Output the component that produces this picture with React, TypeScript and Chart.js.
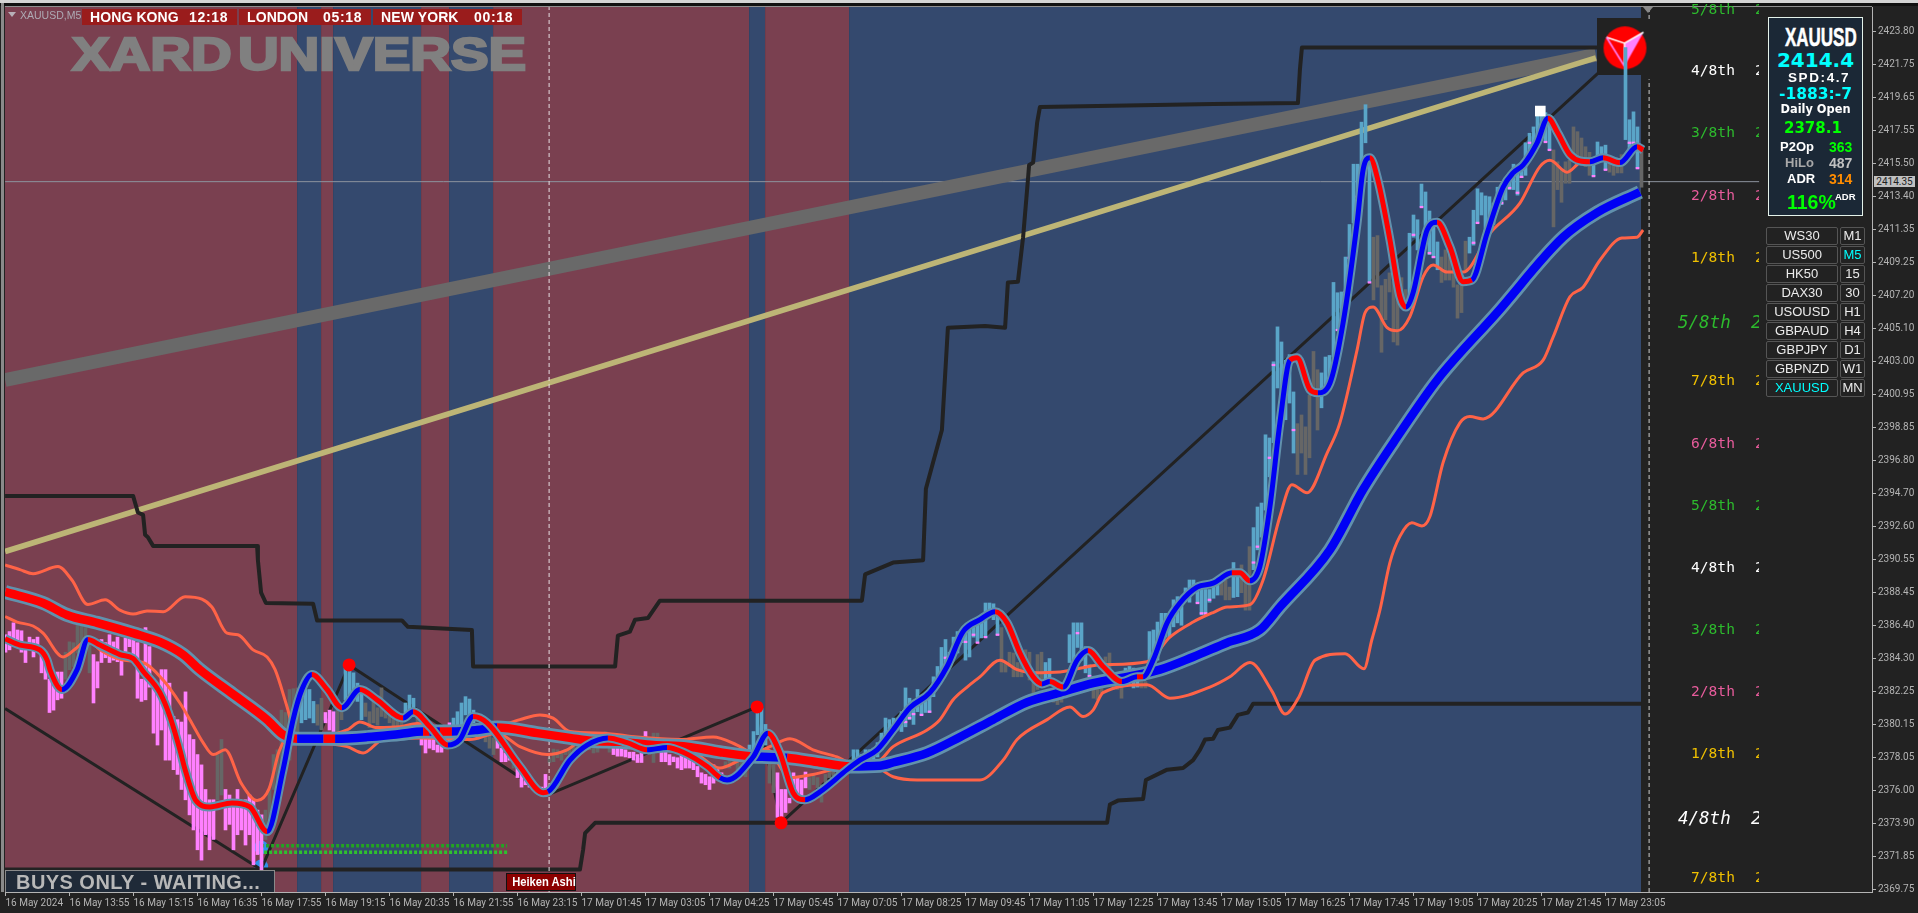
import React, { useEffect, useRef } from "react";
import { Chart, registerables } from "chart.js";

Chart.register(...registerables);

const timeLabels = ["16 May 2024","16 May 13:55","16 May 15:15","16 May 16:35","16 May 17:55","16 May 19:15","16 May 20:35","16 May 21:55","16 May 23:15","17 May 01:45","17 May 03:05","17 May 04:25","17 May 05:45","17 May 07:05","17 May 08:25","17 May 09:45","17 May 11:05","17 May 12:25","17 May 13:45","17 May 15:05","17 May 16:25","17 May 17:45","17 May 19:05","17 May 20:25","17 May 21:45","17 May 23:05"];
const priceTicks = [2423.8,2421.75,2419.65,2417.55,2415.5,2413.4,2411.35,2409.25,2407.2,2405.1,2403,2400.95,2398.85,2396.8,2394.7,2392.6,2390.55,2388.45,2386.4,2384.3,2382.25,2380.15,2378.05,2376,2373.9,2371.85,2369.75];

// candle rows: [bar index, high, low]
const pinkBars = [[0,2385.8,2384.7],[1,2386,2384.85],[2,2386.55,2385.05],[3,2386.1,2385],[4,2386.05,2384.7],[5,2385.3,2384.05],[6,2385.65,2385],[7,2385.5,2384.4],[8,2385.65,2384.7],[9,2384.7,2383.4],[10,2384.1,2383],[11,2383,2380.9],[12,2383,2381.05],[13,2383.45,2381.7],[14,2383.45,2381.8],
[22,2384.55,2381.5],[23,2384.1,2382.45],[24,2385.5,2384.05],[25,2385.3,2384.35],[26,2385.8,2384.05],[27,2385.35,2384.2],[28,2385.65,2384.1],[29,2384.65,2383.25],[30,2385.6,2384.2],[31,2386.25,2385.05],[32,2386.1,2384.2],[33,2385.3,2381.8],[34,2383,2381.6],[35,2386.25,2381.7],[36,2385.05,2382.5],[37,2383,2379.6],[38,2382.45,2378.85],[39,2383.6,2379.8],[40,2383.6,2377.9],[41,2382.75,2377.9],[42,2380.65,2377.3],[43,2380.45,2377],[44,2380.3,2376.05],[45,2382.2,2375.4],[46,2379.5,2374.45],[47,2379.2,2373.5],[48,2378.25,2372.25],[49,2377.6,2371.6],[50,2376.05,2373.2],[51,2375.4,2372.25],[52,2375.4,2372.9],
[55,2376.05,2373.5],[56,2375.7,2373.85],[57,2375.4,2372.25],[58,2376.05,2373.2],[59,2375.1,2373.5],[60,2375.4,2372.55],[61,2375.7,2373.2],[62,2375.4,2371.3],[63,2374.75,2371.95],[64,2374.45,2370.85],
[80,2380.9,2380.25],[81,2381.05,2379.8],[82,2380.95,2379.7],
[104,2379.35,2378.85],[105,2379.35,2378.35],[106,2379.3,2378.65],[107,2379.2,2378.55],[108,2378.85,2378.4],[109,2379,2378.4],[110,2379.5,2378.65],[111,2380.25,2378.85],
[123,2379.2,2378.65],[124,2378.65,2377.8],[125,2378.35,2377.8],[126,2378.25,2377.9],[128,2377.5,2376.8],[129,2377.1,2376.2],[130,2376.8,2376.35],[131,2376.55,2376.2],[132,2376.35,2376.05],[133,2376.15,2375.85],[134,2376.2,2375.7],[135,2377,2375.6],
[152,2378.75,2378.25],[153,2378.65,2378.15],[154,2378.65,2378.15],[155,2378.55,2378.1],[156,2378.4,2378.05],[157,2378.4,2377.9],[158,2378.25,2377.75],[159,2378.65,2377.75],[160,2379.7,2378.75],[164,2378.85,2377.8],[165,2378.65,2377.8],[166,2378.25,2377.6],[167,2378.1,2377.8],[168,2378.05,2377.4],[169,2378.25,2377.3],[170,2378.25,2377.4],[171,2378.25,2377.4],[172,2378.25,2377.3],[173,2377.5,2376.85],[174,2377.1,2376.45],[175,2377,2376.35],[176,2376.85,2376.05],[177,2377.6,2376.45],[178,2377.3,2376.65],[179,2377.1,2376.8],
[193,2377.1,2374.3],[194,2376.05,2373.95],[195,2376.05,2374.6],[196,2375.5,2375.2],[197,2377.1,2376.2],[198,2376.85,2375.6],[199,2376.65,2375.5],[200,2377.15,2376.15]];

const grayBars = [[15,2384.7,2383],[16,2385.35,2383.6],[17,2385.3,2383.8],[18,2386.4,2384.65],[19,2386.4,2385],[20,2386.25,2384.85],[21,2385.65,2383.4],[53,2378.25,2375.4],[54,2379.2,2375.7],[65,2374.75,2372.9],[66,2376.05,2373.5],[67,2378.25,2376.05],[68,2378.55,2376.05],[69,2381.05,2376.05],[70,2380.9,2377.3],[71,2382.35,2377.9],[72,2382.4,2378.85],[73,2382.45,2379.2],[78,2381.4,2380.1],[79,2381.8,2379.8],[83,2381.7,2379.5],[84,2381.4,2380.45],[90,2381.5,2380.65],[91,2380.95,2379.95],[92,2381.7,2380.25],[93,2381.2,2380.1],[94,2382.45,2380.65],[95,2381.5,2380.55],[96,2381.05,2380.25],[97,2380.75,2379.95],[98,2380.7,2379.8],[99,2380.7,2379.8],[103,2380.95,2379.5],[118,2379.8,2379.2],[119,2379.95,2379.3],[120,2379.8,2379.05],[121,2379.5,2378.65],[122,2379.3,2378.25],[127,2378.25,2377.4],[136,2378.05,2377.75],[137,2378.6,2377.8],[138,2378.55,2378.05],[139,2378.4,2377.9],[140,2378.55,2378.25],[141,2378.65,2378.25],[142,2378.85,2378.4],[143,2378.85,2378.55],[144,2379.05,2378.65],[145,2379.2,2378.65],[146,2379.05,2378.55],[147,2379,2378.35],[148,2378.85,2378.4],[149,2379.6,2378.75],[150,2379.7,2378.85],[151,2379,2378.4],[161,2379.2,2378.25],[162,2379.6,2377.75],[163,2379.6,2378.35],[180,2377.8,2377.4],[181,2377.9,2377.4],[182,2378.05,2377.6],[183,2378.05,2377.3],[184,2378.25,2377.3],[185,2378.1,2376.85],[191,2377.75,2376.45],[192,2377.6,2375.85],[201,2376.8,2376.05],[202,2377,2376.35],[203,2376.8,2376.15],[204,2376.35,2375.25],[205,2377,2376.05],[206,2377.4,2376.8],[207,2377.5,2376.9],[208,2377.6,2377],[209,2377.6,2377],[249,2386.25,2383.45],[250,2384.05,2383.45],[251,2384.7,2383.8],[252,2384.65,2383.15],[253,2384.05,2383.15],[254,2384.05,2383.15],[255,2384.85,2383.4],[256,2384.7,2382.95],[257,2382.95,2381.9],[258,2384.55,2382.35],[259,2384.7,2382.75],[262,2382,2381.55],[263,2381.9,2381.4],[264,2382.15,2381.55],[265,2382.95,2382],[272,2382.5,2381.8],[273,2382.35,2381.7],[274,2382.95,2382.15],[275,2384.4,2382.75],[276,2384.65,2383.15],[277,2382.75,2382.35],[278,2382.75,2382.35],[279,2382.5,2381.8],[284,2382.95,2382.45],[285,2382.85,2382.45],[304,2389.15,2388.3],[305,2389.25,2388],[306,2388.8,2388],[309,2390.2,2388.45],[310,2389.25,2387.35],[311,2391.35,2387.35],[323,2399.1,2395.9],[324,2399.65,2397.25],[325,2398.9,2395.9],[326,2400.9,2396.95],[327,2403.65,2401.25],[328,2402.5,2398.7],[342,2410.85,2406.9],[343,2410.95,2407.7],[344,2407.8,2403.6],[345,2408.2,2405.65],[346,2408.6,2407.4],[347,2408.05,2404.25],[348,2408.8,2404.05],[349,2408.3,2406.9],[350,2407.55,2406.45],[359,2409.6,2408],[360,2410.05,2408.15],[361,2409.75,2408.15],[362,2409.6,2407.7],[363,2407.85,2405.75],[364,2407.85,2406.1],[365,2410.6,2408.8],[387,2416.35,2411.5],[388,2415.6,2413.85],[389,2415.1,2413.05],[390,2415.6,2414.25],[391,2415.7,2414.25],[392,2417.8,2415.85],[393,2417.5,2415.7],[394,2417.1,2415.55],[395,2416.55,2415.3],[396,2416.2,2414.75],[401,2415.7,2414.95],[402,2415.55,2414.75],[403,2415.4,2414.9],[404,2416.05,2414.9],[409,2416.35,2414]];

const blueBars = [[74,2381.8,2380.25],[75,2382.35,2380.45],[76,2382.35,2380.55],[77,2381.6,2380.25],[85,2383.7,2381.7],[86,2383.7,2382],[87,2383.4,2382.15],[88,2382.75,2381.6],[89,2382.15,2380.45],[100,2381.5,2380.55],[101,2382,2380.75],[102,2381.8,2380.65],[112,2380.55,2379.5],[113,2380.95,2379.95],[114,2381.5,2380],[115,2381.9,2380.75],[116,2381.75,2380.75],[117,2381.05,2380.25],[186,2378.85,2378.1],[187,2379.7,2378.1],[188,2381.2,2379.5],[189,2381.15,2379.5],[190,2380.15,2378.85],[212,2378.55,2377.9],[213,2378.55,2377.5],[214,2378.25,2377.6],[215,2378.55,2377.6],[216,2378.55,2377.8],[217,2378.65,2377.9],[218,2379,2378.1],[219,2379.6,2378.55],[220,2380.55,2379.2],[221,2380.45,2379.6],[222,2380.55,2379.8],[223,2380.55,2379.8],[224,2380.95,2379.7],[225,2382.45,2380],[226,2381.8,2380.45],[227,2381.4,2380.15],[228,2382.35,2380.95],[229,2381.7,2380.75],[230,2381.9,2380.9],[231,2381.9,2380.9],[232,2383.15,2381.9],[233,2383.8,2382.5],[234,2385,2383.15],[235,2385.5,2383.6],[236,2384.7,2383.8],[237,2385.65,2384.4],[238,2386,2384.65],[239,2386,2385.3],[240,2386.25,2384.2],[241,2386.25,2384.4],[242,2386.4,2385.65],[243,2386.75,2385.3],[244,2386.85,2385.6],[245,2387.8,2385.65],[246,2387.8,2386.95],[247,2387.75,2386.75],[248,2387.15,2385.8],[260,2384.05,2382.85],[261,2384.3,2382.95],[266,2385.8,2384.05],[267,2386.55,2384.05],[268,2386.55,2385],[269,2386.55,2384.2],[270,2385.05,2383.4],[271,2383.9,2383.15],[280,2383.7,2382.75],[281,2383.8,2382.95],[282,2383.7,2382.45],[283,2383.6,2382.5],[286,2386,2384.05],[287,2386.1,2384.4],[288,2386.6,2384.2],[289,2387.15,2386.1],[290,2387.15,2385.65],[291,2387.15,2385.65],[292,2388,2386.3],[293,2388.2,2386.55],[294,2388,2386.4],[295,2388.75,2388],[296,2389.25,2387.85],[297,2389.25,2388.65],[298,2388.65,2387.8],[299,2388.65,2387.05],[300,2388.65,2387.05],[301,2388.65,2387.85],[302,2388.95,2388.1],[303,2389.15,2388.3],[307,2390.35,2388.15],[308,2389.9,2388.2],[312,2392.55,2389.9],[313,2393.85,2391.15],[314,2394.1,2391.95],[315,2398.4,2393.65],[316,2398.2,2395.75],[317,2403,2397.9],[318,2405.2,2401.35],[319,2404.25,2399.8],[320,2403.1,2399.35],[321,2403.45,2400.4],[322,2401.1,2397.25],[329,2402.3,2400.1],[330,2403.3,2401.25],[331,2403.4,2401.4],[332,2408,2403.3],[333,2407.35,2405],[334,2407.4,2404.2],[335,2409.6,2407.4],[336,2411.65,2409.4],[337,2415.45,2411.75],[338,2415.45,2413.4],[339,2418.1,2415.3],[340,2419.2,2416.8],[341,2415.85,2408],[351,2411.1,2406.9],[352,2412.25,2410.85],[353,2411.95,2410.05],[354,2414.2,2412.75],[355,2413.7,2411.1],[356,2412.5,2409.75],[357,2411.95,2409.55],[358,2410.55,2408.8],[366,2410.85,2409.85],[367,2412.55,2410.35],[368,2413.9,2411.75],[369,2413.65,2412.25],[370,2413.45,2411.1],[371,2413.4,2411.75],[372,2413,2411.65],[373,2414,2412.9],[374,2413.85,2412.9],[375,2414.25,2413.2],[376,2414.9,2413.85],[377,2415.45,2413.85],[378,2415.1,2413.5],[379,2415.1,2414.6],[380,2416.8,2414.75],[381,2417.4,2415.7],[382,2417.8,2416.15],[383,2418.55,2417],[384,2419,2417.4],[385,2418.7,2416.85],[386,2418.1,2416.35],[397,2415.6,2414.7],[398,2416.85,2415.7],[399,2416.55,2415.6],[400,2416.65,2415.1],[405,2422.8,2417],[406,2418.25,2416.35],[407,2418.75,2416.5],[408,2417.8,2415.2]];

// close marks inside rising candles: [bar index, price]
const closeMarks = [[225,2380.3],[226,2380.55],[227,2380.8],[229,2380.75],[231,2380.95],[235,2384.35],[240,2385.35],[242,2385.8],[243,2385.3],[245,2385.65],[248,2385.8],[268,2385.9],[270,2383.8],[271,2383.2],[298,2387.8],[299,2387.15],[300,2387.15],[301,2388],[312,2390.35],[313,2391.35],[316,2396.95],[317,2402.8],[320,2401.1],[322,2398.7],[333,2405],[335,2407.4],[336,2409.55],[338,2413.4],[341,2408],[352,2411],[354,2412.75],[356,2409.85],[357,2409.6],[367,2410.5],[368,2411.75],[370,2411.2],[374,2413],[376,2413.95],[378,2413.65],[379,2414.65],[381,2416.8],[385,2416.85],[386,2416.35],[397,2414.7],[400,2415.1],[406,2416.8],[407,2416.8],[408,2415.2]];

const maroonSpans = [[-0.125,72.9],[78.9,81.9],[103.9,110.9],[121.9,185.9],[189.9,210.9]];
const blueSpans = [[72.9,78.9],[81.9,103.9],[110.9,121.9],[185.9,189.9],[210.9,408.9]];

const grayTrend = [[-0.1,2401.85],[397.6,2422.35]];
const tanTrend = [[-0.1,2391.05],[397.6,2422.15]];
const lastPrice = [[-0.1,2414.35],[438.4,2414.35]];
const sessionLine = [[135.9,2369.59],[135.9,2425.35]];
const futureLine = [[410.9,2369.59],[410.9,2420.8]];
const futureLineTop = [[410.9,2424.6],[410.9,2425.35]];
const greenRowA = [[63.9,2372.5],[125.4,2372.5]];
const greenRowB = [[63.9,2372.1],[125.4,2372.1]];

const stepHigh = [[-0.1,2394.55],[31.9,2394.55],[33.1,2393.5],[34.4,2393.35],[34.9,2392.1],[35.6,2391.95],[36.9,2391.4],[62.9,2391.4],[63.1,2390.5],[63.9,2388.45],[65.1,2387.8],[76.9,2387.75],[77.9,2386.7],[99.1,2386.7],[100.6,2386.3],[116.6,2386.1],[116.9,2383.8],[152.4,2383.8],[153.1,2385.75],[156.1,2386],[157.4,2386.75],[160.6,2386.85],[163.6,2387.95],[214.1,2387.95],[214.9,2389.6],[221.9,2390.35],[229.4,2390.5],[230.1,2395],[234.1,2398.7],[235.6,2405.15],[244.9,2405.25],[249.9,2405.15],[250.6,2408],[253.1,2408.05],[254.4,2410.85],[255.6,2414.45],[255.9,2415.4],[256.9,2415.55],[257.9,2418.05],[258.6,2419.05],[301.9,2419.25],[323.1,2419.3],[323.6,2421.4],[324.1,2422.8],[408.9,2422.8]];
const stepLow = [[-0.1,2371],[143.6,2371],[144.4,2372.25],[144.9,2373.3],[147.4,2373.95],[275.4,2373.95],[276.1,2375.1],[278.1,2375.35],[284.4,2375.45],[285.1,2376.65],[290.4,2377.3],[294.4,2377.4],[296.9,2377.9],[298.6,2378.55],[299.9,2379.2],[301.9,2379.25],[303.1,2379.8],[306.1,2379.95],[308.1,2380.75],[310.6,2380.9],[311.9,2381.45],[408.9,2381.45]];
const zigzag = [[-0.1,2381.15],[63.9,2371],[85.9,2383.9],[135.4,2375.7],[187.9,2381.25],[193.9,2373.95],[405.1,2422.8]];

const slowLine = [[-0.1,2388.5],[9.4,2387.8],[15.4,2387.05],[22.9,2386.55],[31.9,2385.9],[38.6,2385.35],[44.4,2384.55],[48.6,2383.6],[56.9,2382.05],[65.4,2380.45],[69.4,2379.5],[72.9,2379.25],[79.5,2379.25],[82.4,2379.25],[90.4,2379.35],[98.6,2379.55],[104.4,2379.7],[106,2379.7],[108.6,2379.7],[111.6,2379.7],[117.9,2379.8],[122.9,2379.95],[132.9,2379.6],[141.1,2379.3],[146.9,2379.1],[153.6,2379.05],[161.9,2378.85],[170.4,2378.75],[178.6,2378.4],[186.1,2378.15],[190.6,2378.1],[195.4,2378.05],[203.6,2377.75],[211.1,2377.5],[218.6,2377.55],[221.9,2377.75],[230.4,2378.35],[238.6,2379.35],[246.9,2380.45],[255.4,2381.55],[263.6,2382.15],[271.9,2382.75],[280.4,2383.15],[288.6,2383.6],[296.9,2384.4],[305.4,2385.3],[313.6,2386.1],[318.6,2387.55],[331.1,2391.15],[339.4,2394.95],[347.9,2398.25],[357.9,2401.85],[372.9,2406.1],[389.4,2410.85],[397.9,2412.4],[408.6,2413.7]];
const slowFalling = [[-1,72.9],[79.5,82.4],[104.4,106],[108.6,111.6],[122.9,186.1],[195.4,211.1]];

const fastLine = [[-0.1,2385.55],[3.6,2385.15],[8.6,2384.85],[10.4,2384.2],[11.1,2383.6],[14.1,2382.35],[17.9,2383.6],[20.6,2385.5],[23.6,2385.15],[28.6,2384.55],[31.9,2384.3],[34.4,2383.5],[38.6,2382.15],[41.1,2380.65],[43.6,2378.55],[44.9,2377.3],[47.6,2375.35],[51.1,2374.95],[56.6,2375.2],[61.1,2374.95],[65.4,2373.4],[69.4,2377.3],[71.9,2380.45],[74.1,2382.35],[76.6,2383.3],[80.4,2382.35],[84.1,2381.2],[88.6,2382.35],[92.9,2381.7],[99.4,2380.55],[101.9,2380.95],[106.1,2380],[110.6,2378.85],[113.6,2379.2],[116.9,2380.65],[120.4,2380.25],[128.6,2377.5],[134.4,2375.85],[135.6,2375.9],[141.1,2377.9],[145.4,2378.85],[150.6,2379.3],[155.4,2379],[160.4,2378.55],[165.4,2378.7],[169.4,2378.4],[175.4,2377.5],[178.6,2376.8],[180.4,2376.65],[186.9,2378.1],[190.6,2379.6],[193.6,2378.35],[196.9,2375.85],[199.9,2375.4],[203.6,2375.9],[210.4,2377.3],[213.6,2377.9],[217.9,2378.55],[221.9,2379.8],[226.1,2381.2],[231.1,2382.15],[235.4,2383.8],[239.4,2386],[243.6,2386.75],[247.4,2387.25],[250.4,2386.55],[253.6,2384.65],[256.9,2383.15],[259.1,2382.7],[261.1,2382.85],[264.4,2382.5],[267.9,2384.2],[270.6,2384.8],[274.4,2383.8],[279.1,2382.85],[282.9,2383.15],[284.4,2383.15],[286.9,2384.2],[290.4,2386.55],[293.6,2387.8],[297.9,2388.8],[301.9,2389.05],[306.6,2389.7],[308.6,2389.7],[311.1,2389.2],[313.6,2390.1],[316.1,2393.85],[318.6,2399.15],[321.1,2403.1],[322.9,2403.25],[326.1,2401.25],[328.1,2401.05],[331.1,2401.65],[334.4,2405.45],[337.9,2411.75],[339.4,2415.1],[341.1,2415.85],[343.1,2414.45],[346.1,2410.7],[348.6,2407.1],[350.1,2406.45],[351.9,2407.35],[355.4,2411.3],[357.9,2411.8],[361.1,2410.25],[364.4,2408.05],[366.6,2408.15],[370.4,2411.1],[374.4,2414],[376.9,2414.9],[379.4,2415.4],[382.9,2416.8],[385.6,2418.35],[388.1,2417.4],[391.1,2416.05],[396.1,2415.6],[399.4,2415.85],[403.6,2415.55],[407.9,2416.55],[409.4,2416.35]];
const fastFalling = [[-1,14.1],[20.6,65.4],[76.6,84.1],[88.6,99.4],[101.9,110.6],[116.9,135.6],[150.6,160.4],[165.4,178.6],[190.6,199.9],[247.4,259.1],[261.1,264.4],[270.6,279.1],[282.9,284.4],[306.6,311.1],[321.1,328.1],[341.1,350.1],[357.9,366.6],[385.6,396.1],[399.4,403.6],[407.9,410]];

const envelopeUpper = [[-0.1,2390.2],[3.6,2389.9],[6.9,2389.65],[13.1,2390.1],[16.6,2389.25],[20.6,2387.7],[24.9,2388],[28.6,2387.35],[31.9,2387.1],[35.4,2387.3],[39.4,2387.25],[44.9,2388.2],[49.1,2388.05],[51.6,2387.55],[55.4,2385.9],[58.1,2385.8],[61.9,2384.85],[65.4,2384.4],[67.4,2383.6],[70.4,2381.25],[72.9,2379.2],[78.6,2379.35],[85.4,2379.8],[88.6,2380.3],[92.9,2379.95],[98.6,2380],[102.9,2380.2],[110.4,2379.8],[116.1,2379.7],[122.9,2380],[128.6,2380.45],[133.6,2380.75],[136.9,2380.55],[141.1,2379.7],[149.4,2379.6],[157.9,2379.35],[168.6,2379.2],[176.9,2379.35],[182.9,2378.85],[186.9,2378.35],[191.1,2378.75],[196.1,2379.25],[201.9,2378.55],[207.9,2378.1],[211.1,2377.75],[217.9,2377.8],[221.9,2378.75],[230.4,2379.8],[233.6,2380.45],[236.9,2381.7],[240.4,2382.5],[243.6,2383.15],[248.6,2384.2],[252.9,2383.6],[256.9,2383.4],[263.6,2383.45],[273.6,2383.9],[285.4,2384.1],[291.1,2385.65],[296.9,2386.6],[301.9,2387.2],[305.4,2387.55],[311.1,2387.7],[314.4,2389.25],[318.6,2393.25],[321.6,2395.25],[325.4,2394.75],[330.4,2397.25],[333.6,2399.15],[337.9,2403.75],[339.9,2406.1],[341.9,2406.45],[345.4,2405.15],[347.9,2404.95],[351.1,2405.85],[354.4,2408.35],[356.9,2409.1],[360.4,2408.65],[364.4,2408.65],[371.1,2411.1],[378.6,2413],[383.6,2415.3],[386.1,2415.7],[390.4,2414.95],[393.6,2415.55],[397.9,2415.7],[403.6,2415.6]];
const envelopeLower = [[-0.1,2386.95],[2.9,2386.6],[6.9,2386.35],[9.4,2385.9],[14.4,2384.4],[17.9,2385],[20.6,2385.5],[23.6,2384.85],[29.4,2384.2],[34.4,2384.05],[39.4,2382.95],[43.6,2381.5],[46.1,2380.45],[49.4,2379],[51.9,2378.25],[54.9,2378.55],[58.9,2376.45],[62.9,2375.35],[65.9,2376.1],[68.4,2378.45],[71.4,2379.55],[72.9,2378.95],[78.6,2378.95],[85.4,2378.75],[89.4,2378.35],[94.4,2379.2],[103.6,2379.3],[116.1,2379.2],[122.9,2379.6],[128.6,2378.75],[135.4,2378.25],[140.4,2378.55],[145.4,2379.35],[150.4,2379.35],[161.9,2379],[172.9,2378.25],[178.6,2377.4],[183.6,2377.9],[190.4,2378.55],[196.1,2376.8],[201.9,2377],[211.1,2377.5],[217.9,2377.4],[221.9,2376.85],[227.9,2376.65],[243.6,2376.65],[249.4,2377.9],[252.9,2379.2],[260.4,2380.45],[266.1,2381.25],[269.4,2380.65],[271.9,2381.05],[274.4,2382.15],[285.4,2382.65],[291.1,2381.8],[301.1,2382.5],[306.1,2383.15],[311.1,2384.05],[316.6,2382.25],[319.9,2380.8],[323.4,2381.9],[327.4,2384.2],[334.9,2384.6],[339.6,2383.65],[341.6,2385.5],[343.6,2387.35],[346.1,2390.35],[348.6,2392],[351.6,2392.85],[354.1,2392.65],[356.1,2393.25],[359.4,2396.65],[363.6,2399.15],[366.1,2399.55],[369.4,2399.4],[379.4,2402.3],[384.4,2403.1],[386.9,2404.55],[391.1,2407.1],[394.4,2407.7],[398.6,2409.4],[404.1,2410.8],[407.9,2410.85],[409.4,2411.3]];

const redMarkers = [[85.9,2383.9],[187.9,2381.25],[193.9,2373.95]];
const blueMarkers = [[63.9,2371.2],[63.9,2372.4]];
const whiteMarker = [[383.7,2418.8]];
const logoAnchor = [[404.25,2422.85]];

const clockCities = ["HONG KONG", "LONDON", "NEW YORK"];
const clockTimes = ["12:18", "05:18", "00:18"];
const murreyLabels = ["5/8th","4/8th","3/8th","2/8th","1/8th","5/8th","7/8th","6/8th","5/8th","4/8th","3/8th","2/8th","1/8th","4/8th","7/8th"];
const murreyHues = ["#2dbb2d","#ffffff","#2dbb2d","#e85c9c","#f0c000","#2dbb2d","#f0c000","#e85c9c","#2dbb2d","#ffffff","#2dbb2d","#e85c9c","#f0c000","#ffffff","#f0c000"];
const murreyCentres = [11,72,134,197,259,323,382,445,507,569,631,693,755,819,879];
const murreyScript = [false,false,false,false,false,true,false,false,false,false,false,false,false,true,false];
const symbolButtons = ["WS30","US500","HK50","DAX30","USOUSD","GBPAUD","GBPJPY","GBPNZD","XAUUSD"];
const periodButtons = ["M1","M5","15","30","H1","H4","D1","W1","MN"];

const pts = (rows: number[][]) => rows.map(([x, y]) => ({ x, y }));
const spans = (rows: number[][], top: number) =>
  rows.flatMap(([a, b]) => [{ x: a, y: top }, { x: b, y: top }, { x: b, y: null as any }]);
const bars = (rows: number[][]) => rows.map(([x, hi, lo]) => ({ x, y: [lo, hi] }));
const inRanges = (ranges: number[][], v: number) => ranges.some(([a, b]) => v >= a && v < b);

function makeLogo() {
  const c = document.createElement("canvas");
  c.width = 52;
  c.height = 57;
  const g = c.getContext("2d")!;
  const ox = 1597, oy = 19;
  g.fillStyle = "#222222";
  g.fillRect(0, 0, 52, 57);
  g.fillStyle = "#ff0000";
  g.beginPath();
  g.arc(1625.5 - ox, 48.5 - oy, 21.5, 0, Math.PI * 2);
  g.fill();
  g.fillStyle = "#ff80ff";
  g.beginPath();
  g.moveTo(1644 - ox, 33 - oy);
  g.lineTo(1625 - ox, 44 - oy);
  g.lineTo(1625 - ox, 67 - oy);
  g.closePath();
  g.fill();
  g.strokeStyle = "#ffffff";
  g.lineWidth = 1.5;
  g.beginPath();
  g.moveTo(1644 - ox, 33 - oy);
  g.lineTo(1625 - ox, 44 - oy);
  g.lineTo(1607 - ox, 38 - oy);
  g.moveTo(1625 - ox, 44 - oy);
  g.lineTo(1625 - ox, 67 - oy);
  g.stroke();
  g.strokeStyle = "#ff80ff";
  g.beginPath();
  g.moveTo(1607 - ox, 38 - oy);
  g.lineTo(1625 - ox, 67 - oy);
  g.stroke();
  return c;
}

const line = (rows: number[][], color: string, width: number, extra: any = {}) => ({
  type: "line", data: pts(rows), borderColor: color, borderWidth: width, pointRadius: 0, tension: 0, fill: false, ...extra,
});
const floating = (rows: number[][], color: string) => ({
  type: "bar", data: bars(rows), backgroundColor: color, barThickness: 3, grouped: false, borderWidth: 0,
});
const dots = (rows: number[][], color: string, radius: number, style = "circle") => ({
  type: "line", data: pts(rows), showLine: false, pointRadius: radius, pointStyle: style,
  pointBackgroundColor: color, pointBorderWidth: 0, borderWidth: 0,
});
const smooth = { cubicInterpolationMode: "monotone" };
const OUTLINE = "#6191ad";
const RED = "#ff0000";
const BLUE = "#0000f5";
const zeroPadding = (s: any) => { s.paddingLeft = 0; s.paddingRight = 0; s.paddingTop = 0; s.paddingBottom = 0; };

export default function App() {
  const ref = useRef<HTMLCanvasElement>(null);
  useEffect(() => {
    const TOP = 2425.356;
    const BOTTOM = 2369.59;
    const painterOrder: any[] = [
      { type: "line", data: spans(maroonSpans, TOP), showLine: true, borderWidth: 0, pointRadius: 0, fill: "start", backgroundColor: "#7a4050", spanGaps: false },
      { type: "line", data: spans(blueSpans, TOP), showLine: true, borderWidth: 0, pointRadius: 0, fill: "start", backgroundColor: "#34496e", spanGaps: false },
      line(lastPrice, "#8c939e", 1),
      line(grayTrend, "#696969", 13.7, { borderCapStyle: "butt" }),
      line(tanTrend, "#bdb576", 5.7, { borderCapStyle: "butt" }),
      dots(blueMarkers, "#2f93e8", 7),
      line(stepHigh, "#222222", 4, { borderJoinStyle: "round" }),
      line(stepLow, "#222222", 4, { borderJoinStyle: "round" }),
      line(zigzag, "#222222", 3),
      { type: "line", data: pts(logoAnchor), showLine: false, pointStyle: makeLogo(), pointRadius: 26, borderWidth: 0 },
      line(greenRowA, "#23a323", 3.5, { borderDash: [3, 2] }),
      line(greenRowB, "#2fc02f", 3.5, { borderDash: [3, 2], borderDashOffset: 2 }),
      floating(grayBars, "#666666"),
      floating(pinkBars, "#ff80ff"),
      floating(blueBars, "#5aa5c8"),
      { type: "bar", data: closeMarks.map(([x, y]) => ({ x, y: [y - 0.05, y + 0.05] })), backgroundColor: "#ff80ff", barThickness: 3, grouped: false, borderWidth: 0 },
      line(sessionLine, "#e8dfe4", 1, { borderDash: [4, 3] }),
      line(futureLine, "#d0d0d0", 1, { borderDash: [4, 3] }),
      line(futureLineTop, "#d0d0d0", 1, { borderDash: [4, 3] }),
      line(envelopeUpper, "#ff6347", 3, smooth),
      line(envelopeLower, "#ff6347", 3, smooth),
      line(slowLine, OUTLINE, 14, smooth),
      line(slowLine, BLUE, 8.5, { ...smooth, segment: { borderColor: (c: any) => (inRanges(slowFalling, c.p0.parsed.x) ? RED : BLUE) } }),
      line(fastLine, OUTLINE, 9, smooth),
      line(fastLine, BLUE, 5, { ...smooth, segment: { borderColor: (c: any) => (inRanges(fastFalling, c.p0.parsed.x) ? RED : BLUE) } }),
      dots(redMarkers, "#ff0000", 6.5),
      dots(whiteMarker, "#ffffff", 7.5, "rect"),
    ];
    const n = painterOrder.length;
    const datasets = painterOrder.map((d, i) => ({ ...d, order: n - i }));

    const chart = new Chart(ref.current!, {
      type: "bar",
      data: { datasets },
      options: {
        animation: false,
        responsive: false,
        devicePixelRatio: 1,
        layout: { autoPadding: false, padding: { left: 5, top: 7, right: 0, bottom: 0 } },
        plugins: { legend: { display: false }, tooltip: { enabled: false } },
        events: [],
        scales: {
          x: {
            type: "linear",
            offset: false,
            min: -0.125,
            max: 466.625,
            grid: { offset: false, drawOnChartArea: false, drawTicks: true, tickLength: 4, color: "#b4b4b4" },
            border: { color: "#b4b4b4", width: 1 },
            afterBuildTicks: (s: any) => { s.ticks = timeLabels.map((_, k) => ({ value: k * 16 })); },
            afterFit: (s: any) => { s.height = 21; zeroPadding(s); },
            ticks: {
              autoSkip: false, maxRotation: 0, minRotation: 0, align: "start", padding: 1, color: "#b4b4b4",
              font: { family: "Roboto", size: 10 },
              callback: (v: any) => timeLabels[Math.round(v / 16)],
            },
          },
          y: {
            position: "right",
            min: BOTTOM,
            max: TOP,
            grid: { drawOnChartArea: false, drawTicks: true, tickLength: 4, color: "#b4b4b4" },
            border: { color: "#b4b4b4", width: 1 },
            afterBuildTicks: (s: any) => { s.ticks = priceTicks.map((value) => ({ value })); },
            afterFit: (s: any) => { s.width = 46; zeroPadding(s); },
            ticks: {
              autoSkip: false, padding: 2, color: "#b4b4b4",
              font: { family: "Roboto", size: 10 },
              callback: (v: any) => Number(v).toFixed(2),
            },
          },
        },
      } as any,
    });
    return () => chart.destroy();
  }, []);

  const abs = (left: number, top: number, extra: any = {}): any => ({ position: "absolute", left, top, whiteSpace: "pre", ...extra });
  const SANS = "'Liberation Sans', Arial, sans-serif";
  const WIDE = "'DejaVu Sans', sans-serif";
  const clockBoxes = [[82, 155, 91, 39], [239, 132, 95, 39], [373, 149, 95, 39]];

  return (
    <div style={{ position: "fixed", left: 0, top: 0, width: 1918, height: 913, background: "#222222", overflow: "hidden" }}>
      <canvas ref={ref} width={1918} height={913} style={{ display: "block", width: 1918, height: 913 }} />
      <div style={{ position: "absolute", left: 0, top: 0, width: 1918, height: 3, background: "#d4d4d4" }} />
      <div style={{ position: "absolute", left: 0, top: 3, width: 1918, height: 3, background: "#111" }} />
      <div style={{ position: "absolute", left: 1, top: 3, width: 3, height: 889, background: "#8a8a8a" }} />
      <div style={{ position: "absolute", left: 5, top: 6, width: 1867, height: 1, background: "#8f8f8f" }} />

      <div style={abs(8, 12, { width: 0, height: 0, borderLeft: "4px solid transparent", borderRight: "4px solid transparent", borderTop: "5px solid #b8b0b8" })} />
      <div style={abs(20, 9, { color: "#aeaab4", font: `10.5px ${SANS}`, lineHeight: "12px" })}>XAUUSD,M5</div>
      {clockCities.map((city, i) => {
        const [l, w, cw, tw] = clockBoxes[i];
        return (
          <div key={i} style={abs(l, 9, { width: w, height: 16, background: "#9a1c1c", color: "#fff", font: `bold 14px ${SANS}`, lineHeight: "16px" })}>
            <span style={{ position: "absolute", left: 8, transform: "none", letterSpacing: 0.1 }}>{city}</span>
            <span style={{ position: "absolute", left: w - tw - 9, letterSpacing: 0.7 }}>{clockTimes[i]}</span>
          </div>
        );
      })}
      <div style={abs(72, 28, { color: "#808080", font: `900 47px ${SANS}`, lineHeight: "52px", WebkitTextStroke: "2.4px #808080", transformOrigin: "0 0", transform: "scaleX(1.2)", wordSpacing: -8 })}>XARD UNIVERSE</div>

      <div style={abs(5, 870, { width: 268, height: 21, boxSizing: "content-box", background: "#1f2a38", borderTop: "1px solid #8a8a8a", borderRight: "1px solid #8a8a8a", borderLeft: "1px solid #8a8a8a", color: "#b8b8b8", font: `bold 20px ${SANS}`, lineHeight: "22px", letterSpacing: 0.45 })}>
        <span style={{ marginLeft: 10 }}>BUYS ONLY - WAITING...</span>
      </div>
      <div style={abs(506, 873, { width: 70, height: 18, background: "#8b0000", border: "1px solid #111", boxSizing: "border-box", color: "#fff", textAlign: "center", font: `bold 13px ${SANS}`, lineHeight: "16px" })}>
        <span style={{ display: "inline-block", transform: "scaleX(0.86)" }}>Heiken Ashi</span>
      </div>

      <div style={abs(1643, 7, { width: 0, height: 0, borderLeft: "5px solid transparent", borderRight: "5px solid transparent", borderTop: "6px solid #8a8a8a" })} />

      {murreyLabels.map((t, i) => {
        const script = murreyScript[i];
        return (
          <div key={i} style={abs(script ? 1678 : 1691, murreyCentres[i] - 11, {
            width: script ? 81 : 68, height: 22, overflow: "hidden", color: murreyHues[i], lineHeight: "22px",
            font: script ? `italic 17.5px 'DejaVu Sans Mono', monospace` : `14.6px 'DejaVu Sans Mono', monospace`,
          })}>
            {t}
            <span style={{ position: "absolute", left: script ? 73 : 64 }}>2</span>
          </div>
        );
      })}

      <div style={abs(1768, 17, { width: 95, height: 199, boxSizing: "border-box", background: "#1b2836", border: "1px solid #e4f2ea" })} />
      <div style={abs(1768, 24, { width: 95, textAlign: "center", color: "#fff", font: `bold 25px ${SANS}`, lineHeight: "26px" })}>
        <span style={{ display: "inline-block", transform: "scaleX(0.68)", WebkitTextStroke: "0.5px #fff" }}>XAUUSD</span>
      </div>
      <div style={abs(1768, 48, { width: 95, textAlign: "center", color: "#00ffff", font: `bold 20px ${WIDE}`, lineHeight: "24px" })}>2414.4</div>
      <div style={abs(1788, 70, { color: "#fff", font: `bold 13.5px ${SANS}`, lineHeight: "16px", letterSpacing: 1.6 })}>SPD:4.7</div>
      <div style={abs(1768, 85, { width: 95, textAlign: "center", color: "#00ffff", font: `bold 15.5px ${WIDE}`, lineHeight: "18px" })}>-1883:-7</div>
      <div style={abs(1768, 102, { width: 95, textAlign: "center", color: "#fff", font: `bold 11.4px ${WIDE}`, lineHeight: "14px" })}>Daily Open</div>
      <div style={abs(1784, 119, { color: "#00ff00", font: `bold 15px ${WIDE}`, lineHeight: "18px" })}>2378.1</div>
      <div style={abs(1780, 139, { color: "#fff", font: `bold 13px ${SANS}`, lineHeight: "16px" })}>P2Op</div>
      <div style={abs(1829, 139, { color: "#00ff00", font: `bold 14px ${SANS}`, lineHeight: "16px" })}>363</div>
      <div style={abs(1785, 155, { color: "#a8a8a8", font: `bold 13px ${SANS}`, lineHeight: "16px" })}>HiLo</div>
      <div style={abs(1829, 155, { color: "#c0c0c0", font: `bold 14px ${SANS}`, lineHeight: "16px" })}>487</div>
      <div style={abs(1787, 171, { color: "#fff", font: `bold 13px ${SANS}`, lineHeight: "16px" })}>ADR</div>
      <div style={abs(1829, 171, { color: "#ff8c00", font: `bold 14px ${SANS}`, lineHeight: "16px" })}>314</div>
      <div style={abs(1787, 190, { color: "#00ff00", font: `bold 19.5px ${SANS}`, lineHeight: "24px" })}>116%</div>
      <div style={abs(1835, 191, { color: "#fff", font: `bold 9.5px ${SANS}`, lineHeight: "12px" })}>ADR</div>

      {symbolButtons.map((s, i) => (
        <React.Fragment key={i}>
          <div style={abs(1766, 227 + i * 19, { width: 72, height: 18, boxSizing: "border-box", border: "1px solid #555", borderRadius: 2, color: s === "XAUUSD" ? "#00ffff" : "#ececec", textAlign: "center", font: `13px ${SANS}`, lineHeight: "16px" })}>{s}</div>
          <div style={abs(1840, 227 + i * 19, { width: 25, height: 18, boxSizing: "border-box", border: "1px solid #555", borderRadius: 2, color: periodButtons[i] === "M5" ? "#00ffff" : "#ececec", textAlign: "center", font: `13px ${SANS}`, lineHeight: "16px" })}>{periodButtons[i]}</div>
        </React.Fragment>
      ))}

      <div style={abs(1874, 176, { width: 41, height: 11, background: "#c0c0c0", color: "#222", textAlign: "center", font: "10px Roboto", lineHeight: "11px" })}>2414.35</div>
    </div>
  );
}
